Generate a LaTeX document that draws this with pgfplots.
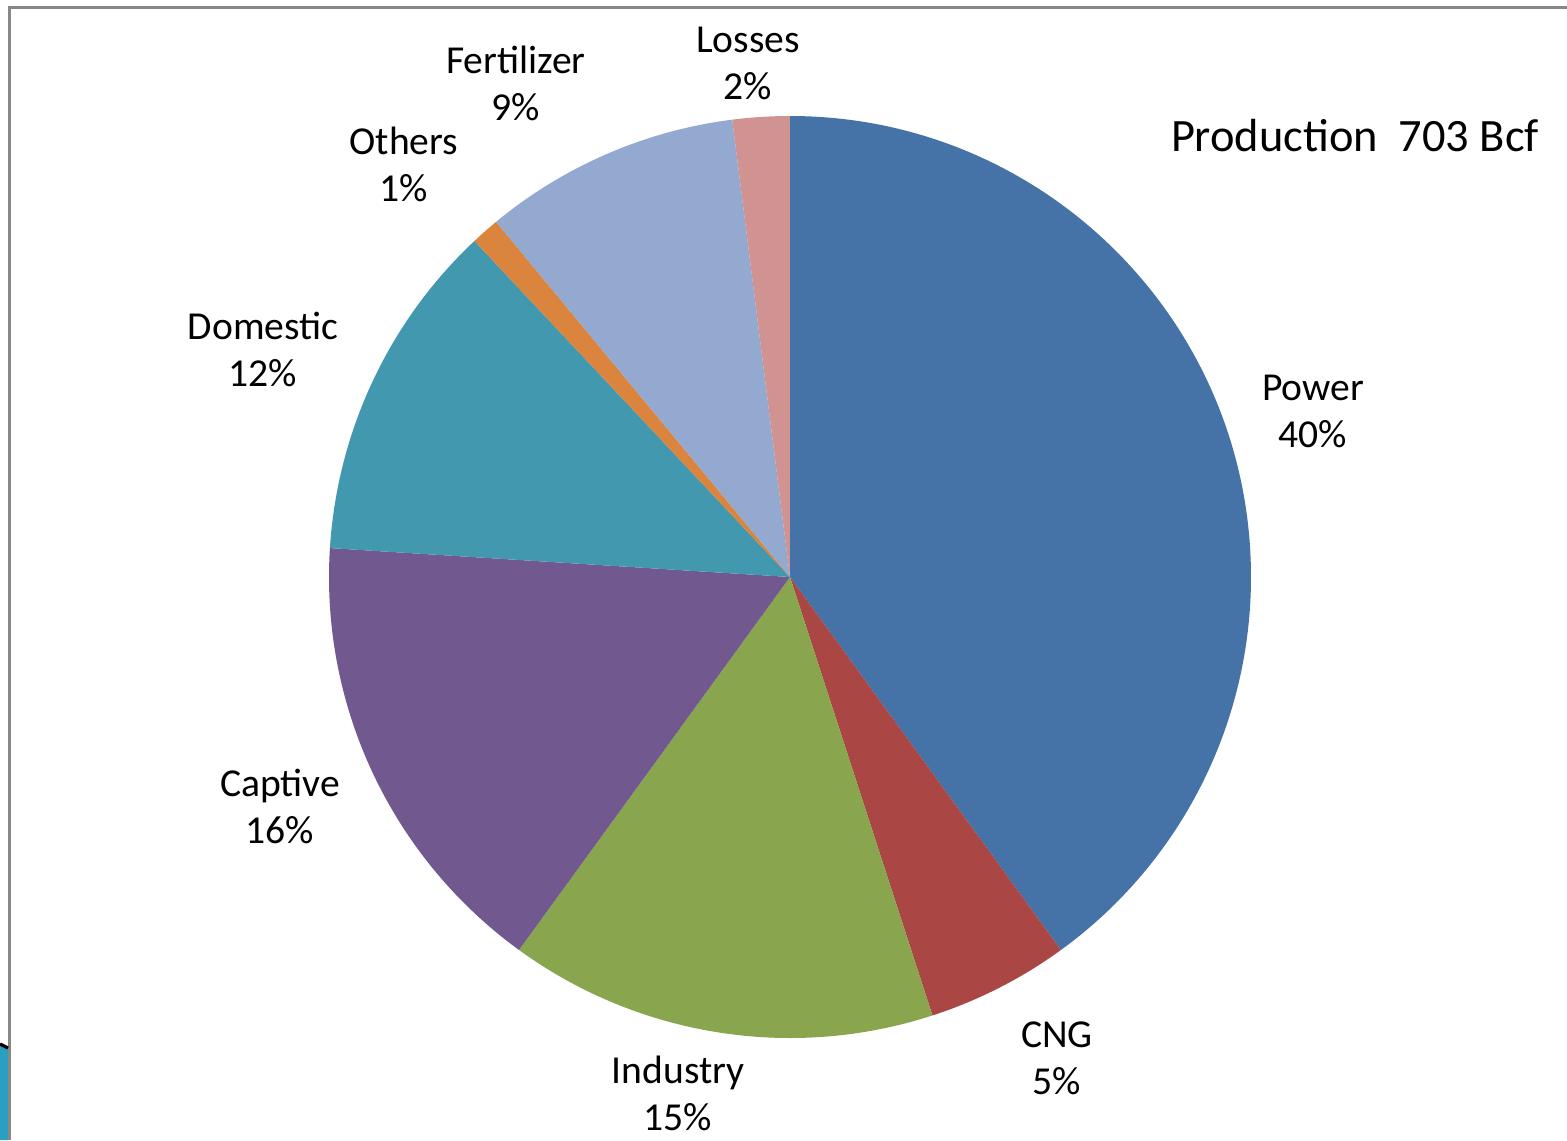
\documentclass[border=0pt]{standalone}
\usepackage{pgfplots}
\pgfplotsset{compat=1.18}
\usepackage{fontspec}
\setmainfont{Carlito}
\definecolor{cPower}{HTML}{4572A7}
\definecolor{cCNG}{HTML}{AA4643}
\definecolor{cIndustry}{HTML}{89A54E}
\definecolor{cCaptive}{HTML}{71588F}
\definecolor{cDomestic}{HTML}{4198AF}
\definecolor{cOthers}{HTML}{DB843D}
\definecolor{cFertilizer}{HTML}{93A9CF}
\definecolor{cLosses}{HTML}{D19392}
\definecolor{frame}{HTML}{888888}
\definecolor{deco}{HTML}{2A9FC0}
% slice: {cumulative start %}{share %}{colour}
\newcommand\slice[3]{%
  \fill[#3] (axis cs:790,563) -- (axis cs:{790+461*cos(90-3.6*#1)},{563+461*sin(90-3.6*#1)})
    arc[start angle={90-3.6*#1}, end angle={90-3.6*(#1+#2)}, radius=461] -- cycle;}
\newcommand\lab[4]{\node[align=center, inner sep=0pt, font=\fontsize{9.9}{11.75}\selectfont, text=black] at (axis cs:#1,#2) {#3\\#4\%};}
\begin{document}
\begin{tikzpicture}
\begin{axis}[scale only axis, width=391.75pt, height=285pt,
  xmin=0, xmax=1567, ymin=0, ymax=1140, hide axis, clip=false,
  anchor=south west, at={(0,0)}]
% shares (%): Power 40, CNG 5, Industry 15, Captive 16, Domestic 12, Others 1, Fertilizer 9, Losses 2
\slice{0}{40}{cPower}
\slice{40}{5}{cCNG}
\slice{45}{15}{cIndustry}
\slice{60}{16}{cCaptive}
\slice{76}{12}{cDomestic}
\slice{88}{1}{cOthers}
\slice{89}{9}{cFertilizer}
\slice{98}{2}{cLosses}
\lab{1313}{729}{Power}{40}
\lab{1057}{82}{CNG}{5}
\lab{678}{47}{Industry}{15}
\lab{280}{334}{Captive}{16}
\lab{263}{791}{Domestic}{12}
\lab{404}{976}{Others}{1}
\lab{516}{1057}{Fertilizer}{9}
\lab{748}{1077}{Losses}{2}
\node[inner sep=0pt, font=\fontsize{11.6}{14}\selectfont, text=black] at (axis cs:1355,1004) {Production\ \ 703 Bcf};
\draw[frame, line width=0.75pt] (axis cs:10,0) -- (axis cs:10,1133) -- (axis cs:1567,1133);
\fill[deco] (axis cs:0,0) -- (axis cs:0,95) -- (axis cs:8,91) -- (axis cs:8,0) -- cycle;
\draw[black, line width=0.8pt] (axis cs:0,96) -- (axis cs:8,92);
\end{axis}
\pgfresetboundingbox
\path[use as bounding box] (0,0) rectangle (391.75pt,285pt);
\end{tikzpicture}
\end{document}
